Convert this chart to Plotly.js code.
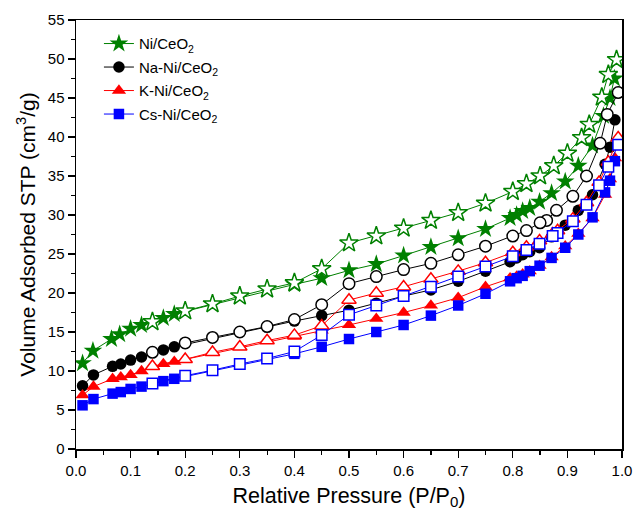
<!DOCTYPE html>
<html>
<head>
<meta charset="utf-8">
<script src="https://cdn.plot.ly/plotly-3.0.1.min.js"></script>
<style>html,body{margin:0;padding:0;background:#fff;}#chart{width:635px;height:518px;}</style>
</head>
<body>
<div id="chart"></div>
<script>
// ---- Data ----
const seriesNames = ["Ni/CeO<sub>2</sub>", "Na-Ni/CeO<sub>2</sub>", "K-Ni/CeO<sub>2</sub>", "Cs-Ni/CeO<sub>2</sub>"];

// Adsorption branch (filled symbols)
const niAdsX = [0.012,0.031,0.065,0.08,0.10,0.12,0.16,0.18,0.40,0.45,0.50,0.55,0.60,0.65,0.70,0.75,0.795,0.807,0.818,0.831,0.849,0.871,0.896,0.92,0.946,0.966,0.978,0.986];
const niAdsY = [11.0,12.6,14.1,14.7,15.4,15.9,16.8,17.3,21.1,21.9,22.9,23.7,24.8,25.9,27.0,28.2,29.6,30.0,30.5,30.9,31.7,32.8,34.3,36.3,38.9,42.7,45.0,47.5];

const adsX = [0.012,0.032,0.067,0.082,0.10,0.12,0.16,0.18,0.40,0.45,0.50,0.55,0.60,0.65,0.70,0.75,0.795,0.807,0.818,0.831,0.849,0.871,0.896,0.92,0.946,0.969,0.978,0.987];
const naAdsY = [8.1,9.5,10.6,10.9,11.4,11.8,12.7,13.1,16.4,17.1,17.8,18.7,19.6,20.4,21.5,22.8,24.0,24.5,24.9,25.3,25.8,27.2,28.7,30.6,32.6,36.5,38.7,42.2];
const kAdsY  = [6.9,8.0,9.0,9.2,9.5,10.0,10.9,11.2,14.4,15.2,15.9,16.7,17.5,18.4,19.4,20.8,21.9,22.1,22.4,22.8,23.5,24.6,26.0,27.6,29.6,32.6,34.6,37.3];
const csAdsY = [5.6,6.4,7.1,7.3,7.7,8.0,8.7,9.0,12.2,13.1,14.1,15.0,15.9,17.1,18.4,19.9,21.5,21.9,22.2,22.8,23.5,24.5,25.8,27.5,29.7,32.9,34.4,36.9];

// Desorption branch (open symbols)
const niDesX = [0.99,0.975,0.963,0.94,0.926,0.90,0.875,0.85,0.825,0.80,0.75,0.70,0.65,0.60,0.55,0.50,0.45,0.40,0.35,0.30,0.25,0.20,0.14];
const niDesY = [49.9,48.0,45.1,41.6,39.9,37.9,36.3,35.0,34.0,33.0,31.5,30.3,29.3,28.3,27.3,26.4,23.1,21.3,20.5,19.6,18.6,17.7,16.3];

const naDesX = [0.993,0.973,0.96,0.935,0.91,0.88,0.862,0.85,0.825,0.80,0.75,0.70,0.65,0.60,0.55,0.50,0.45,0.40,0.35,0.30,0.25,0.20,0.14];
const naDesY = [45.7,42.9,39.2,35.0,32.4,30.6,29.3,29.0,28.0,27.3,26.0,24.9,23.8,23.0,22.1,21.2,18.5,16.6,15.7,15.0,14.3,13.6,12.4];

const desX = [0.993,0.975,0.958,0.935,0.91,0.882,0.873,0.849,0.825,0.80,0.75,0.70,0.65,0.60,0.55,0.50,0.45,0.40,0.35,0.30,0.25,0.20,0.14];
const kDesY  = [39.9,36.8,34.2,31.6,29.5,28.0,27.6,26.7,25.9,25.2,23.9,22.8,21.8,20.8,20.0,19.1,15.8,14.6,13.9,13.1,12.4,11.5,10.6];
const csDesY = [39.0,36.2,33.8,31.3,29.2,27.7,27.3,26.3,25.5,24.7,23.4,22.1,20.8,19.6,18.4,17.2,14.6,12.5,11.6,10.9,10.1,9.4,8.4];

const xTickVals = [0,0.1,0.2,0.3,0.4,0.5,0.6,0.7,0.8,0.9,1.0];
const xTickText = ["0.0","0.1","0.2","0.3","0.4","0.5","0.6","0.7","0.8","0.9","1.0"];
const yTickVals = [0,5,10,15,20,25,30,35,40,45,50,55];

// ---- Styles ----
const colors = ["#008000", "#000000", "#ff0000", "#0000ff"];
const symbols = ["star", "circle", "triangle-up", "square"];
const sizes = [14, 11.5, 12.5, 10.5];

function ads(i, x, y) {
  return {
    type: "scatter", mode: "lines+markers", x: x, y: y,
    name: seriesNames[i], legendgroup: "g" + i,
    line: {color: colors[i], width: 1},
    marker: {symbol: symbols[i], size: sizes[i], color: colors[i], line: {width: 0}}
  };
}
function des(i, x, y) {
  return {
    type: "scatter", mode: "lines+markers", x: x, y: y,
    name: seriesNames[i] + " des", legendgroup: "g" + i, showlegend: false,
    line: {color: colors[i], width: 1},
    marker: {symbol: symbols[i], size: sizes[i], color: "#ffffff", line: {color: colors[i], width: 1.5}}
  };
}

const traces = [
  ads(0, niAdsX, niAdsY), des(0, niDesX, niDesY),
  ads(1, adsX, naAdsY), des(1, naDesX, naDesY),
  ads(2, adsX, kAdsY), des(2, desX, kDesY),
  ads(3, adsX, csAdsY), des(3, desX, csDesY)
];

const font = "Liberation Sans, Arial, sans-serif";
const layout = {
  width: 635, height: 518,
  margin: {l: 76, r: 13, t: 20, b: 69},
  paper_bgcolor: "#ffffff", plot_bgcolor: "#ffffff",
  font: {family: font, color: "#000", size: 15},
  showlegend: true,
  legend: {x: 0.042, y: 0.983, xanchor: "left", yanchor: "top", font: {size: 15, family: font},
           bgcolor: "rgba(0,0,0,0)", traceorder: "grouped", tracegroupgap: 1},
  xaxis: {
    range: [0, 1], tickvals: xTickVals, ticktext: xTickText,
    showgrid: false, zeroline: false, showline: true, linecolor: "#000", linewidth: 1.5, mirror: true,
    ticks: "outside", ticklen: 7, tickwidth: 1.2, tickcolor: "#000",
    minor: {dtick: 0.05, ticks: "outside", ticklen: 4, tickwidth: 1.2, tickcolor: "#000", showgrid: false},
    tickfont: {size: 15, family: font},
    title: {text: "Relative Pressure (P/P<sub>0</sub>)", font: {size: 21.5, family: font}, standoff: 10}
  },
  yaxis: {
    range: [0, 55], tickvals: yTickVals,
    showgrid: false, zeroline: false, showline: true, linecolor: "#000", linewidth: 1.5, mirror: true,
    ticks: "outside", ticklen: 7, tickwidth: 1.2, tickcolor: "#000",
    minor: {dtick: 2.5, ticks: "outside", ticklen: 4, tickwidth: 1.2, tickcolor: "#000", showgrid: false},
    tickfont: {size: 15, family: font},
    title: {text: "Volume Adsorbed STP (cm<sup>3</sup>/g)", font: {size: 21, family: font}, standoff: 6}
  }
};

Plotly.newPlot("chart", traces, layout, {displayModeBar: false, staticPlot: true});
</script>
</body>
</html>
